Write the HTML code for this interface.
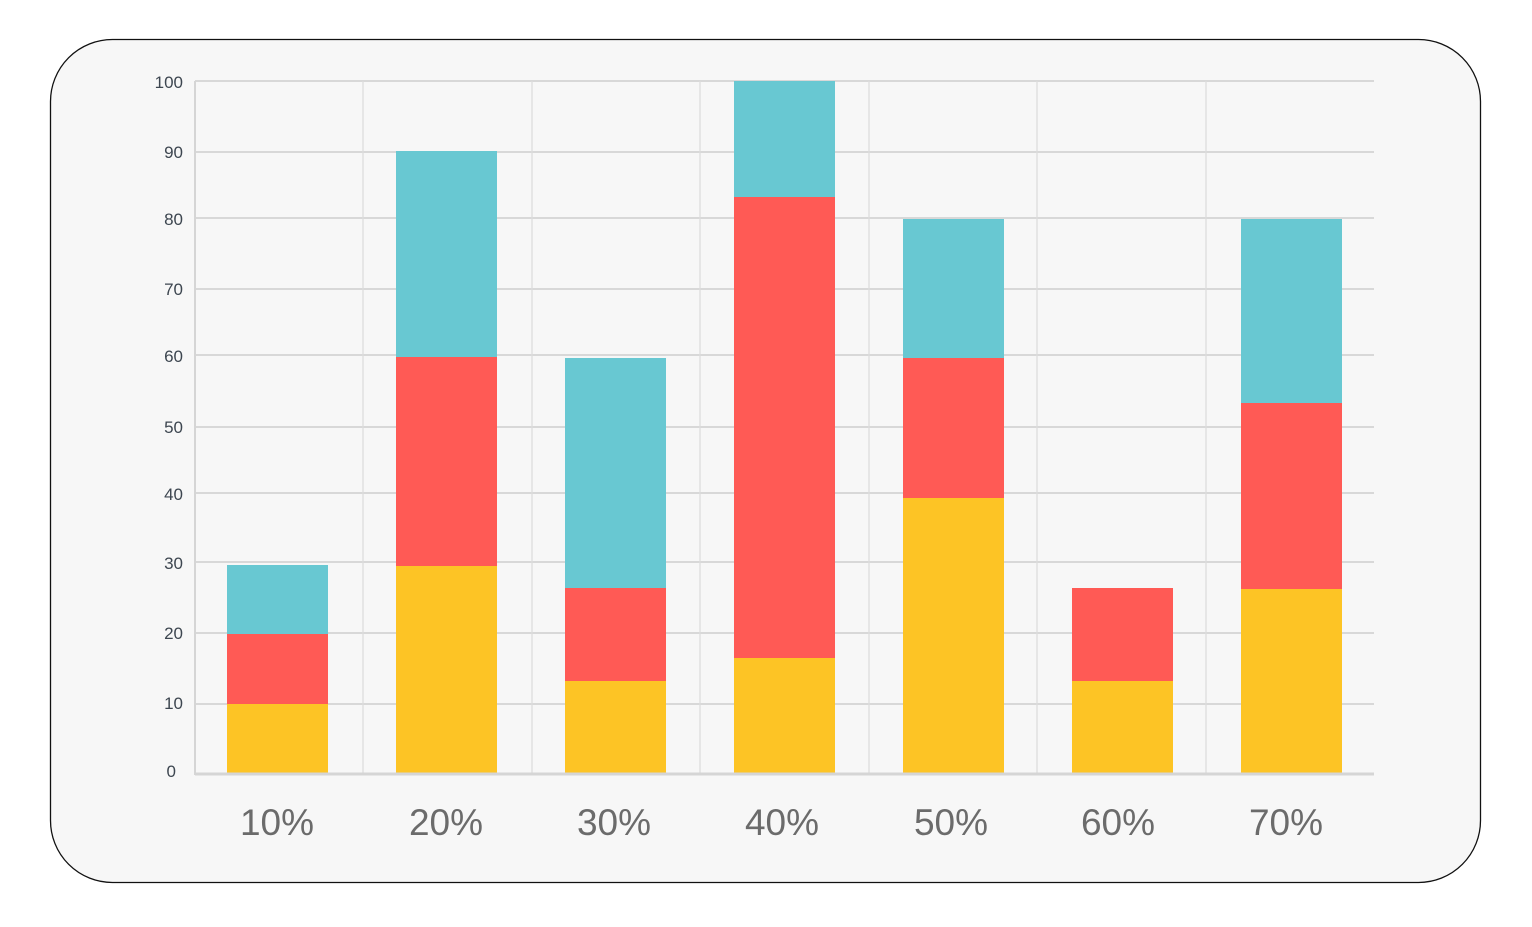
<!DOCTYPE html>
<html><head><style>
body{margin:0;background:#fff;width:1532px;height:922px;overflow:hidden}
</style></head><body>
<svg width="1532" height="922" xmlns="http://www.w3.org/2000/svg" font-family="Liberation Sans, sans-serif">
<rect x="50.5" y="39.5" width="1430" height="843" rx="62" fill="#f7f7f7" stroke="#111" stroke-width="1.3"/>
<g stroke="#d8d8d8" stroke-width="2">
<line x1="195" y1="81" x2="1374" y2="81"/>
<line x1="195" y1="152" x2="1374" y2="152"/>
<line x1="195" y1="218" x2="1374" y2="218"/>
<line x1="195" y1="289" x2="1374" y2="289"/>
<line x1="195" y1="355" x2="1374" y2="355"/>
<line x1="195" y1="427" x2="1374" y2="427"/>
<line x1="195" y1="493" x2="1374" y2="493"/>
<line x1="195" y1="562" x2="1374" y2="562"/>
<line x1="195" y1="633" x2="1374" y2="633"/>
<line x1="195" y1="704" x2="1374" y2="704"/>
</g>
<g stroke="#dcdcdc" stroke-width="1.3">
<line x1="363" y1="81" x2="363" y2="773"/>
<line x1="532" y1="81" x2="532" y2="773"/>
<line x1="700" y1="81" x2="700" y2="773"/>
<line x1="869" y1="81" x2="869" y2="773"/>
<line x1="1037" y1="81" x2="1037" y2="773"/>
<line x1="1206" y1="81" x2="1206" y2="773"/>
</g>
<line x1="195" y1="81" x2="195" y2="775" stroke="#d5d5d5" stroke-width="2"/>
<g>
<rect x="227" y="704" width="101" height="69" fill="#fdc425"/>
<rect x="227" y="634" width="101" height="70" fill="#ff5a55"/>
<rect x="227" y="565" width="101" height="69" fill="#68c8d2"/>
<rect x="396" y="566" width="101" height="207" fill="#fdc425"/>
<rect x="396" y="357" width="101" height="209" fill="#ff5a55"/>
<rect x="396" y="151" width="101" height="206" fill="#68c8d2"/>
<rect x="565" y="681" width="101" height="92" fill="#fdc425"/>
<rect x="565" y="588" width="101" height="93" fill="#ff5a55"/>
<rect x="565" y="358" width="101" height="230" fill="#68c8d2"/>
<rect x="734" y="658" width="101" height="115" fill="#fdc425"/>
<rect x="734" y="197" width="101" height="461" fill="#ff5a55"/>
<rect x="734" y="81" width="101" height="116" fill="#68c8d2"/>
<rect x="903" y="498" width="101" height="275" fill="#fdc425"/>
<rect x="903" y="358" width="101" height="140" fill="#ff5a55"/>
<rect x="903" y="219" width="101" height="139" fill="#68c8d2"/>
<rect x="1072" y="681" width="101" height="92" fill="#fdc425"/>
<rect x="1072" y="588" width="101" height="93" fill="#ff5a55"/>
<rect x="1241" y="589" width="101" height="184" fill="#fdc425"/>
<rect x="1241" y="403" width="101" height="186" fill="#ff5a55"/>
<rect x="1241" y="219" width="101" height="184" fill="#68c8d2"/>
</g>
<line x1="195" y1="774" x2="1374" y2="774" stroke="#d5d5d5" stroke-width="3"/>
<g font-size="17" fill="#3d4650" text-anchor="end">
<text x="183" y="88">100</text><text x="183" y="158">90</text><text x="183" y="225">80</text>
<text x="183" y="295">70</text><text x="183" y="362">60</text><text x="183" y="433">50</text>
<text x="183" y="500">40</text><text x="183" y="569">30</text><text x="183" y="639">20</text>
<text x="183" y="709">10</text><text x="176" y="777">0</text>
</g>
<g font-size="37" fill="#6b6b6b" text-anchor="middle">
<text x="277" y="835">10%</text><text x="446" y="835">20%</text><text x="614" y="835">30%</text>
<text x="782" y="835">40%</text><text x="951" y="835">50%</text><text x="1118" y="835">60%</text>
<text x="1286" y="835">70%</text>
</g>
</svg>
</body></html>
